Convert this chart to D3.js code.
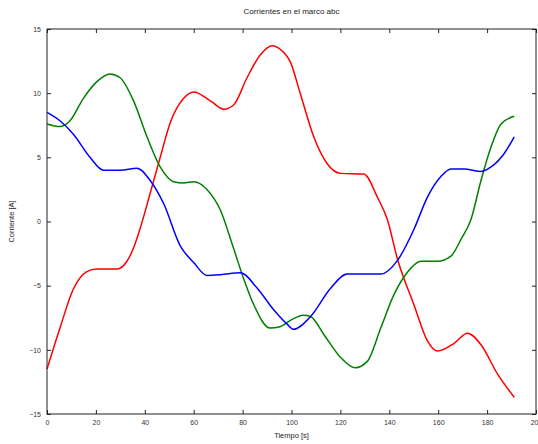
<!DOCTYPE html>
<html>
<head>
<meta charset="utf-8">
<script src="https://cdn.jsdelivr.net/npm/d3@7"></script>
<style>
  body { margin: 0; background: #fff; }
  svg { display: block; font-family: 'Liberation Sans', Arial, sans-serif; }
  .axis text { font-size: 7px; fill: #333; }
  .axis .domain { display: none; }
  .axis line { stroke: #222; }
  .line { fill: none; stroke-width: 1.5; }
</style>
</head>
<body>
<div id="chart"></div>
<script>
// tick labels
const X_TICKS = [0, 20, 40, 60, 80, 100, 120, 140, 160, 180, 200];
const Y_TICKS = [-15, -10, -5, 0, 5, 10, 15];

// series, [tiempo, corriente]
const RED = [
  [0, -11.5], [5.3, -8.3], [10.7, -5.3], [16.3, -3.9], [20.4, -3.7], [28.6, -3.7],
  [32.7, -3.1], [35.5, -2.0], [38, -0.6], [42.2, 2.2], [46.3, 5.0], [50.4, 7.7],
  [55.9, 9.6], [60, 10.1], [66.8, 9.4], [72.3, 8.75], [76.4, 9.1], [81.8, 11.2],
  [87.3, 13], [92.1, 13.7], [95.5, 13.4], [99.6, 12.4], [103.7, 9.9], [109.1, 6.6],
  [114.6, 4.5], [120.1, 3.75], [129.6, 3.7], [135.1, 1.9], [139.2, 0.15],
  [143.3, -2.9], [150.1, -6.5], [155.6, -9.3], [159.7, -10.1], [166.5, -9.5],
  [172, -8.7], [177.5, -9.6], [184.3, -11.9], [191.1, -13.7]
];
const GREEN = [
  [0, 7.6], [5.3, 7.4], [9.4, 7.85], [14.9, 9.6], [20.4, 10.9], [25.8, 11.5],
  [29.9, 11.2], [35.4, 9.4], [40.9, 6.6], [46.3, 4.25], [51.8, 3.1], [55.9, 3.0],
  [60, 3.1], [65.4, 2.5], [70.9, 0.9], [76.4, -2.15], [80.5, -4.5], [84.6, -6.5],
  [91.2, -8.3], [95.3, -8.2], [99.6, -7.7], [104.8, -7.3], [107.8, -7.4], [113.2, -8.8],
  [120.1, -10.6], [126, -11.4], [131, -10.9], [136.5, -8.3], [141.9, -5.7],
  [147.4, -3.95], [152.9, -3.1], [159.7, -3.1], [165.2, -2.7], [169.3, -1.4],
  [173.4, 0.15], [177.5, 3.2], [181.6, 5.8], [185.7, 7.6], [191.1, 8.2]
];
const BLUE = [
  [0, 8.5], [5.3, 7.85], [10.8, 6.8], [17.6, 5.0], [23.1, 4.0], [29.9, 4.0],
  [36.8, 4.15], [42.2, 3.2], [47.7, 1.4], [54.5, -1.9], [60, -3.2], [65.4, -4.2],
  [70.9, -4.15], [79.1, -4.0], [86, -5.2], [92.8, -6.9], [98.2, -8.0], [100.7, -8.4],
  [107.8, -7.4], [116, -5.2], [122.8, -4.1], [129.6, -4.1], [136.5, -4.1],
  [143.3, -3.05], [150.1, -0.6], [155.6, 1.9], [161.1, 3.5], [165.2, 4.1],
  [170.6, 4.1], [177.5, 3.9], [181.6, 4.25], [187, 5.3], [191.1, 6.6]
];

const SERIES = [
  { key: 'a', color: '#ff0000', values: RED },
  { key: 'b', color: '#008000', values: GREEN },
  { key: 'c', color: '#0000ff', values: BLUE },
];

// dimensions
const WIDTH = 538;
const HEIGHT = 444;
const MARGIN_TOP = 29;
const MARGIN_BOTTOM = 30;
const MARGIN_LEFT = 47;
const MARGIN_RIGHT = 2;
const TICK = 4;

const innerW = WIDTH - MARGIN_LEFT - MARGIN_RIGHT;
const innerH = HEIGHT - MARGIN_TOP - MARGIN_BOTTOM;

const scaleX = d3.scaleLinear().domain([0, 200]).range([0, innerW]);
const scaleY = d3.scaleLinear().domain([-15, 15]).range([innerH, 0]);

const $svg = d3.select('#chart').append('svg')
  .attr('width', WIDTH)
  .attr('height', HEIGHT);

const $vis = $svg.append('g')
  .attr('transform', `translate(${MARGIN_LEFT}, ${MARGIN_TOP})`);

// lines
const line = d3.line()
  .x((d) => scaleX(d[0]))
  .y((d) => scaleY(d[1]))
  .curve(d3.curveMonotoneX);

$vis.selectAll('.line')
  .data(SERIES)
  .join('path')
  .attr('class', 'line')
  .attr('stroke', (d) => d.color)
  .attr('d', (d) => line(d.values));

// axes, ticks pointing inward like matlab
$vis.append('g')
  .attr('class', 'axis axis-x')
  .attr('transform', `translate(0, ${innerH})`)
  .call(d3.axisBottom(scaleX).tickValues(X_TICKS).tickSize(-TICK).tickPadding(6))
  .call((g) => g.selectAll('.tick text').attr('y', 6));

$vis.append('g')
  .attr('class', 'axis axis-top')
  .call(d3.axisTop(scaleX).tickValues(X_TICKS).tickSize(-TICK).tickFormat(''));

$vis.append('g')
  .attr('class', 'axis axis-y')
  .call(d3.axisLeft(scaleY).tickValues(Y_TICKS).tickSize(-TICK).tickPadding(6))
  .call((g) => g.selectAll('.tick text').attr('x', -6));

$vis.append('g')
  .attr('class', 'axis axis-right')
  .attr('transform', `translate(${innerW}, 0)`)
  .call(d3.axisRight(scaleY).tickValues(Y_TICKS).tickSize(-TICK).tickFormat(''));

// box
$vis.append('rect')
  .attr('width', innerW)
  .attr('height', innerH)
  .attr('fill', 'none')
  .attr('stroke', '#222')
  .attr('stroke-width', 1);

// texts
$svg.append('text')
  .attr('x', MARGIN_LEFT + innerW / 2)
  .attr('y', 14)
  .attr('text-anchor', 'middle')
  .attr('font-size', 8)
  .attr('fill', '#222')
  .text('Corrientes en el marco abc');

$svg.append('text')
  .attr('x', MARGIN_LEFT + innerW / 2)
  .attr('y', 438)
  .attr('text-anchor', 'middle')
  .attr('font-size', 7.5)
  .attr('fill', '#222')
  .text('Tiempo [s]');

$svg.append('text')
  .attr('transform', `translate(14, ${MARGIN_TOP + innerH / 2}) rotate(-90)`)
  .attr('text-anchor', 'middle')
  .attr('font-size', 7.5)
  .attr('fill', '#222')
  .text('Corriente [A]');
</script>
</body>
</html>
